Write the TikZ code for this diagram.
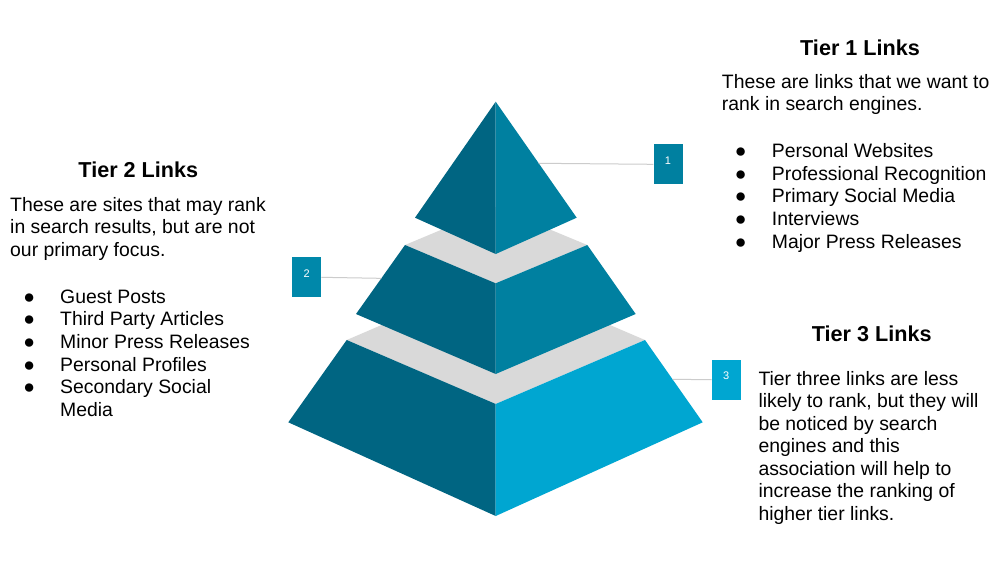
\documentclass[tikz,border=0pt]{standalone}
\usepackage{fontspec}
\setmainfont{Liberation Sans}
\usetikzlibrary{calc}
\definecolor{darkface}{RGB}{0,101,130}
\definecolor{midface}{RGB}{0,128,160}
\definecolor{midbox}{RGB}{0,136,170}
\definecolor{lightface}{RGB}{0,166,209}
\definecolor{bandgray}{RGB}{217,217,217}
\definecolor{leadgray}{RGB}{204,204,204}
\tikzset{
 body/.style={anchor=base west, inner sep=0pt, font=\fontsize{19.4}{22.6}\selectfont, text=black},
 head/.style={anchor=base, inner sep=0pt, font=\fontsize{21.6}{26}\selectfont\bfseries, text=black},
 dot/.style={anchor=base, inner sep=0pt, font=\fontsize{19.4}{22.6}\selectfont, text=black},
 numbox/.style={minimum width=29pt, minimum height=40pt, inner sep=0pt},
 numtext/.style={text=white, font=\fontsize{11}{13}\selectfont, inner sep=0pt},
 leader/.style={draw=leadgray, line width=1pt}
}
\begin{document}
\begin{tikzpicture}[x=1pt,y=-1pt]
\fill[white] (0,0) rectangle (1000,587);
\useasboundingbox (0,0) rectangle (1000,587);
% pyramid points
\coordinate (A) at (495.7,101.7);
\coordinate (TL) at (415,217.7);
\coordinate (TR) at (576.7,217.7);
\coordinate (TF) at (495.7,254);
\coordinate (ML) at (405,245);
\coordinate (MF) at (495.7,283.3);
\coordinate (MR) at (587.3,245);
\coordinate (MB) at (495.7,207);
\coordinate (MBL) at (356,314);
\coordinate (MBF) at (495.7,374);
\coordinate (MBR) at (635.7,314);
\coordinate (BL) at (346.7,340);
\coordinate (BF) at (495.7,404);
\coordinate (BR) at (645,340);
\coordinate (BB) at (495.7,276);
\coordinate (BBL) at (288.3,422.3);
\coordinate (BBF) at (495.7,516);
\coordinate (BBR) at (702.7,422.3);
% bottom tier
\fill[bandgray] (BL) -- (BB) -- (BR) -- (BF) -- cycle;
\fill[darkface] (BL) -- (BF) -- (BBF) -- (BBL) -- cycle;
\fill[lightface] (BF) -- (BR) -- (BBR) -- (BBF) -- cycle;
% middle tier
\fill[bandgray] (ML) -- (MB) -- (MR) -- (MF) -- cycle;
\fill[darkface] (ML) -- (MF) -- (MBF) -- (MBL) -- cycle;
\fill[midface] (MF) -- (MR) -- (MBR) -- (MBF) -- cycle;
% top tier
\fill[darkface] (A) -- (TF) -- (TL) -- cycle;
\fill[midface] (A) -- (TR) -- (TF) -- cycle;
% number boxes
\node[numbox, fill=midface] (box1) at (668,164.3) {};
\node[numbox, fill=midbox] (box2) at (306.7,277.3) {};
\node[numbox, fill=lightface] (box3) at (726.2,379.7) {};
\node[numtext] (n1) at ($(box1.center)+(0,-3.5)$) {1};
\node[numtext] (n2) at ($(box2.center)+(0,-3.5)$) {2};
\node[numtext] (n3) at ($(box3.center)+(0,-3.5)$) {3};
\coordinate (c1) at ($(A)!0.531!(TR)$);
\coordinate (c2) at ($(ML)!0.483!(MBL)$);
\coordinate (c3) at ($(BR)!0.4775!(BBR)$);
\draw[leader] (c1) -- (box1.west);
\draw[leader] (box2.east) -- (c2);
\draw[leader] (c3) -- (box3.west);
% Tier 1
\node[head] (h1) at (860,55) {Tier 1 Links};
\node[body] (t1a) at (721.7,88.3) {These are links that we want to};
\node[body] (t1b) at (721.7,110.9) {rank in search engines.};
\node[dot] (d1a) at (740.7,157.3) {●};
\node[dot] (d1b) at (740.7,180.1) {●};
\node[dot] (d1c) at (740.7,202.9) {●};
\node[dot] (d1d) at (740.7,225.7) {●};
\node[dot] (d1e) at (740.7,248.5) {●};
\node[body] (l1a) at (771.7,157.3) {Personal Websites};
\node[body] (l1b) at (771.7,180.1) {Professional Recognition};
\node[body] (l1c) at (771.7,202.9) {Primary Social Media};
\node[body] (l1d) at (771.7,225.7) {Interviews};
\node[body] (l1e) at (771.7,248.5) {Major Press Releases};
% Tier 2
\node[head] (h2) at (138.3,177.3) {Tier 2 Links};
\node[body] (t2a) at (10,211) {These are sites that may rank};
\node[body] (t2b) at (10,233.5) {in search results, but are not};
\node[body] (t2c) at (10,256) {our primary focus.};
\node[dot] (d2a) at (29.3,303.3) {●};
\node[dot] (d2b) at (29.3,325.9) {●};
\node[dot] (d2c) at (29.3,348.5) {●};
\node[dot] (d2d) at (29.3,371.1) {●};
\node[dot] (d2e) at (29.3,393.7) {●};
\node[body] (l2a) at (60,303.3) {Guest Posts};
\node[body] (l2b) at (60,325.9) {Third Party Articles};
\node[body] (l2c) at (60,348.5) {Minor Press Releases};
\node[body] (l2d) at (60,371.1) {Personal Profiles};
\node[body] (l2e) at (60,393.7) {Secondary Social};
\node[body] (l2f) at (60,416.3) {Media};
% Tier 3
\node[head] (h3) at (871.7,341.7) {Tier 3 Links};
\node[body] (t3a) at (758.3,385) {Tier three links are less};
\node[body] (t3b) at (758.3,407.5) {likely to rank, but they will};
\node[body] (t3c) at (758.3,430) {be noticed by search};
\node[body] (t3d) at (758.3,452.5) {engines and this};
\node[body] (t3e) at (758.3,475) {association will help to};
\node[body] (t3f) at (758.3,497.5) {increase the ranking of};
\node[body] (t3g) at (758.3,520) {higher tier links.};
\end{tikzpicture}
\end{document}
